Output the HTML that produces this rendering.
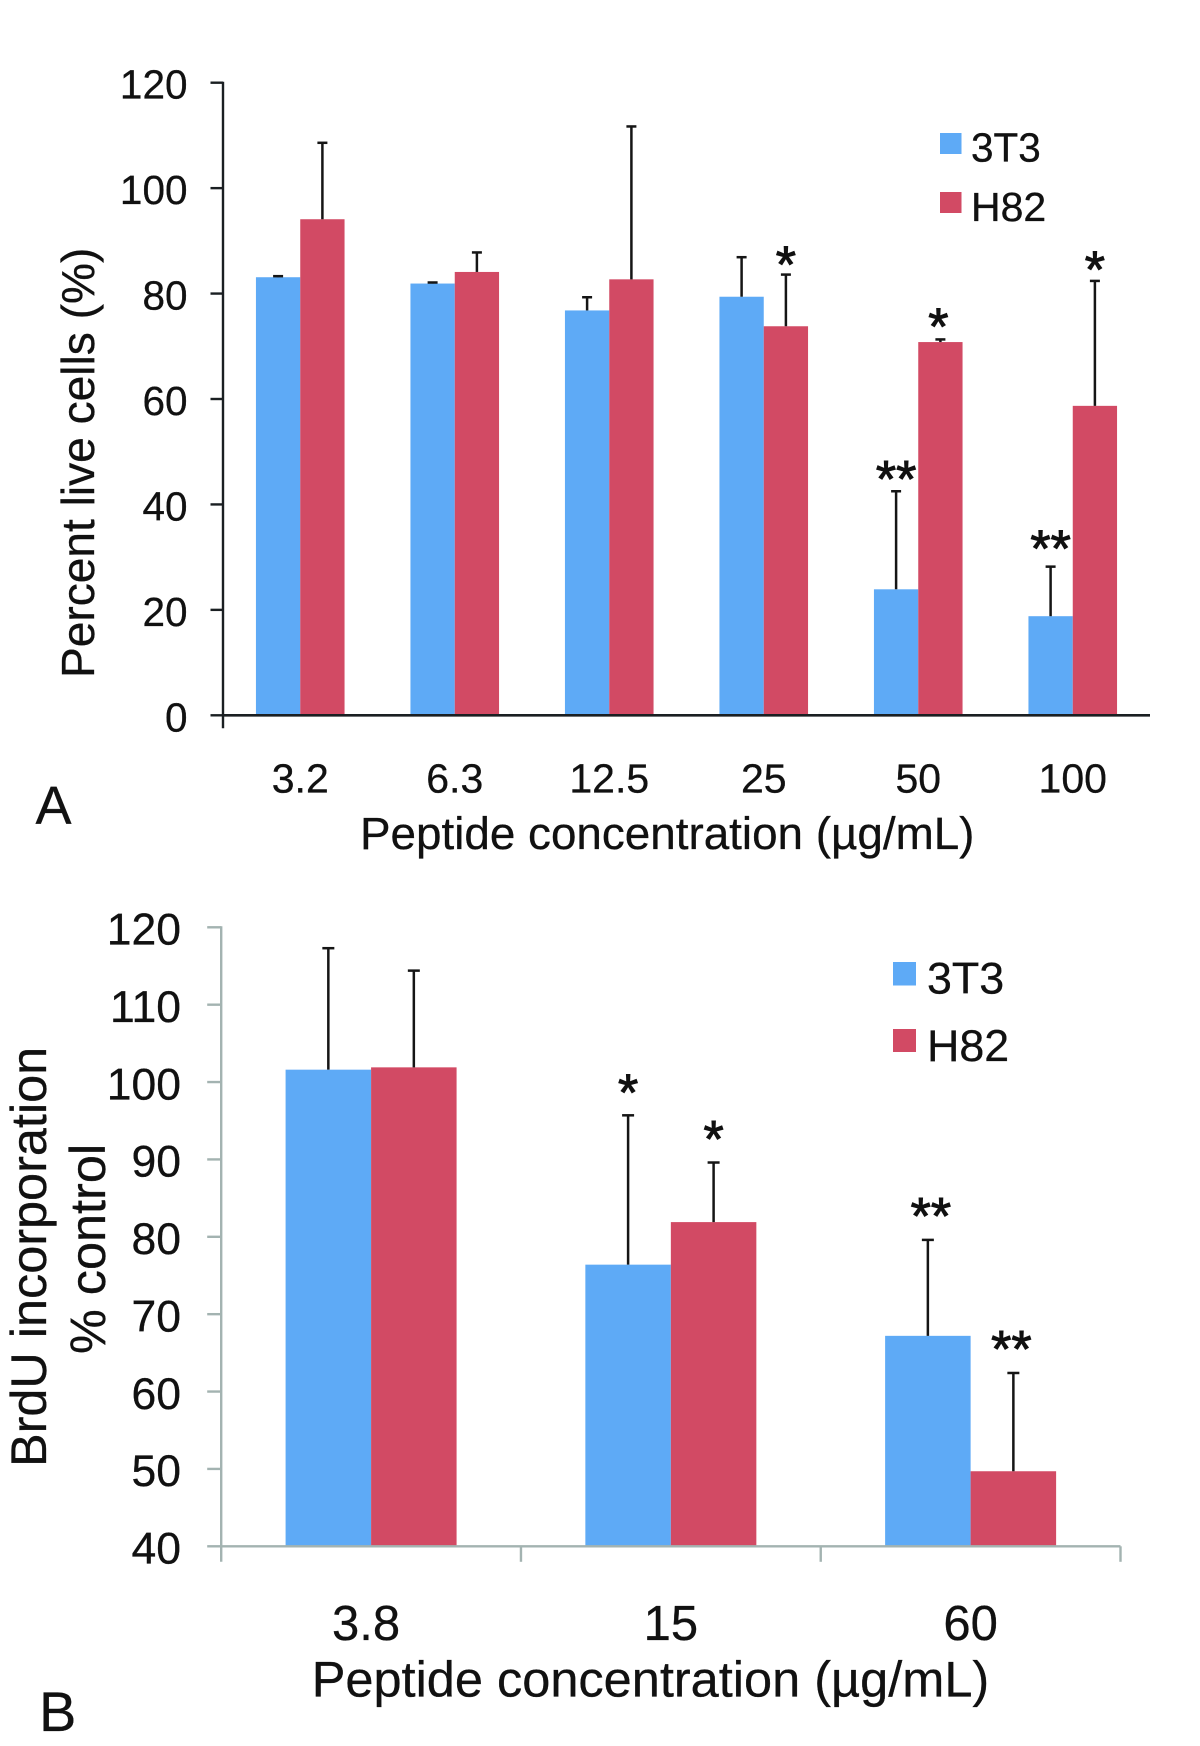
<!DOCTYPE html>
<html lang="en">
<head>
<meta charset="utf-8">
<title>Peptide concentration charts</title>
<style>
html,body{margin:0;padding:0;background:#fff;}
svg{display:block;}
text{font-family:"Liberation Sans",Arial,sans-serif;fill:#111;stroke:#111;stroke-width:0.3px;}
</style>
</head>
<body>
<svg id="figure" xmlns="http://www.w3.org/2000/svg" width="1200" height="1746" viewBox="0 0 1200 1746">
  <rect x="0" y="0" width="1200" height="1746" fill="#ffffff"/>

  <g id="panel-a">
    <text x="35.5" y="824" font-size="54">A</text>
    <text transform="translate(94,678) rotate(-90)" font-size="46.1">Percent live cells (%)</text>
    <text x="360" y="849" font-size="45.8">Peptide concentration (µg/mL)</text>
    <g>
      <rect x="940" y="133" width="21.5" height="21" fill="#5eaaf6"/>
      <text x="971" y="161.5" font-size="40.5">3T3</text>
      <rect x="940" y="192" width="21.5" height="21" fill="#d24a64"/>
      <text x="971" y="221" font-size="41">H82</text>
    </g>
  </g>

  <g id="panel-b">
    <text x="39" y="1731" font-size="56">B</text>
    <text transform="translate(46,1467) rotate(-90)" font-size="50.4">BrdU incorporation</text>
    <text transform="translate(105,1354) rotate(-90)" font-size="50.4">% control</text>
    <text x="311.7" y="1696.5" font-size="50.5">Peptide concentration (µg/mL)</text>
    <g>
      <rect x="893" y="962" width="23" height="23.5" fill="#5eaaf6"/>
      <text x="927" y="993.5" font-size="44.8">3T3</text>
      <rect x="893" y="1029" width="23" height="23" fill="#d24a64"/>
      <text x="927" y="1061" font-size="44.8">H82</text>
    </g>
  </g>
</svg>
<script>
// ---- Panel A data ----
const categoriesA = ['3.2', '6.3', '12.5', '25', '50', '100'];
const yTicksA = [0, 20, 40, 60, 80, 100, 120];
const values3T3A = [83.1, 81.9, 76.8, 79.4, 23.9, 18.8];
const valuesH82A = [94.1, 84.1, 82.7, 73.8, 70.8, 58.7];
const errorTop3T3A = [83.3, 82.1, 79.3, 86.9, 42.5, 28.2];
const errorTopH82A = [108.6, 87.8, 111.7, 83.6, 71.3, 82.4];
const stars3T3A = ['', '', '', '', '**', '**'];
const starsH82A = ['', '', '', '*', '*', '*'];
const starLevel3T3A = [0, 0, 0, 0, 46.0, 32.9];
const starLevelH82A = [0, 0, 0, 86.7, 75.0, 85.8];

// ---- Panel B data ----
const categoriesB = ['3.8', '15', '60'];
const yTicksB = [40, 50, 60, 70, 80, 90, 100, 110, 120];
const values3T3B = [101.6, 76.4, 67.2];
const valuesH82B = [101.9, 81.9, 49.7];
const errorTop3T3B = [117.3, 95.7, 79.6];
const errorTopH82B = [114.4, 89.6, 62.4];
const stars3T3B = ['', '*', '**'];
const starsH82B = ['', '*', '**'];
const starLevel3T3B = [0, 99.5, 83.5];
const starLevelH82B = [0, 93.5, 66.3];

const SVG_NS = 'http://www.w3.org/2000/svg';
const BLUE = '#5eaaf6';
const RED = '#d24a64';

function addLine(parent, name, x1, y1, x2, y2, color, width) {
  const el = document.createElementNS(SVG_NS, 'line');
  
  
  el.setAttribute('x1', x1);
  el.setAttribute('y1', y1);
  el.setAttribute('x2', x2);
  el.setAttribute('y2', y2);
  el.setAttribute('stroke', color);
  el.setAttribute('stroke-width', width);
  parent.appendChild(el);
  return el;
}

function addRect(parent, name, x, y, w, h, color) {
  const el = document.createElementNS(SVG_NS, 'rect');
  
  
  el.setAttribute('x', x);
  el.setAttribute('y', y);
  el.setAttribute('width', w);
  el.setAttribute('height', h);
  el.setAttribute('fill', color);
  parent.appendChild(el);
  return el;
}

function addText(parent, name, x, y, size, anchor, content) {
  const el = document.createElementNS(SVG_NS, 'text');
  
  
  el.setAttribute('x', x);
  el.setAttribute('y', y);
  el.setAttribute('font-size', size);
  el.setAttribute('text-anchor', anchor);
  el.textContent = content;
  parent.appendChild(el);
  return el;
}

function drawChart(root, cfg, categories, yTicks, series) {
  const yMin = yTicks[0];
  const yMax = yTicks[yTicks.length - 1];
  const yScale = v => cfg.yBottom - (v - yMin) * (cfg.yBottom - cfg.yTop) / (yMax - yMin);
  const band = (cfg.xRight - cfg.xLeft) / categories.length;
  const groupCenter = i => cfg.xLeft + band * (i + 0.5);
  const barLeft = (i, s) => groupCenter(i) + (s - 1) * cfg.barWidth;

  series.forEach((ser, s) => {
    ser.values.forEach((v, i) => {
      const left = barLeft(i, s);
      const top = yScale(v);
      addRect(root, 'bar-' + ser.name + '-' + categories[i], left, top, cfg.barWidth, yScale(yMin) - top, ser.color);
      const cx = left + cfg.barWidth / 2;
      const errTop = yScale(ser.errorTop[i]);
      addLine(root, 'error-bar-' + ser.name + '-' + categories[i], cx, top, cx, errTop, cfg.errorColor, cfg.errorWidth);
      addLine(root, 'error-cap-' + ser.name + '-' + categories[i], cx - cfg.capHalf, errTop, cx + cfg.capHalf, errTop, cfg.errorColor, cfg.errorWidth);
      if (ser.stars[i]) {
        const nudge = cfg.starNudge[ser.name + '-' + categories[i]] || 0;
        const star = addText(root, 'significance-' + ser.name + '-' + categories[i], cx + nudge, yScale(ser.starLevel[i]) + cfg.starFont * 0.47, cfg.starFont, 'middle', ser.stars[i]);
        star.style.strokeWidth = '1px';
      }
    });
  });

  addLine(root, 'y-axis-line', cfg.xLeft, cfg.yTop - 1, cfg.xLeft, cfg.yBottom + cfg.xTickLen, cfg.axisColor, cfg.axisWidth);
  addLine(root, 'x-axis-line', cfg.xLeft, cfg.yBottom, cfg.xRight, cfg.yBottom, cfg.axisColor, cfg.baseWidth);

  yTicks.forEach(t => {
    const y = yScale(t);
    addLine(root, 'y-tick-' + t, cfg.xLeft - cfg.yTickLen, y, cfg.xLeft, y, cfg.axisColor, cfg.axisWidth);
    addText(root, 'y-tick-label-' + t, cfg.yLabelRight, y + cfg.yLabelDrop, cfg.tickFont, 'end', String(t));
  });

  if (cfg.groupTicks) {
    categories.forEach((c, i) => {
      const x = cfg.xLeft + band * (i + 1);
      addLine(root, 'x-tick-' + (i + 1), x, cfg.yBottom, x, cfg.yBottom + cfg.xTickLen, cfg.axisColor, cfg.axisWidth);
    });
  }

  categories.forEach((c, i) => {
    addText(root, 'x-tick-label-' + c, groupCenter(i) + (cfg.labelNudge[c] || 0), cfg.xLabelBaseline, cfg.xLabelFont, 'middle', c);
  });
}

drawChart(document.getElementById('panel-a'), {
  xLeft: 223, xRight: 1150, yTop: 82.7, yBottom: 715.3,
  barWidth: 44.3, capHalf: 5, errorColor: '#151515', errorWidth: 2.5,
  axisColor: '#1a1f22', axisWidth: 2.4, baseWidth: 2.6,
  yTickLen: 12.5, xTickLen: 13, groupTicks: false,
  tickFont: 40.5, yLabelRight: 187.5, yLabelDrop: 16,
  xLabelFont: 41, xLabelBaseline: 792.5, starFont: 52,
  starNudge: { 'h82-50': -2 }, labelNudge: {}
}, categoriesA, yTicksA, [
  { name: '3t3', color: BLUE, values: values3T3A, errorTop: errorTop3T3A, stars: stars3T3A, starLevel: starLevel3T3A },
  { name: 'h82', color: RED, values: valuesH82A, errorTop: errorTopH82A, stars: starsH82A, starLevel: starLevelH82A }
]);

drawChart(document.getElementById('panel-b'), {
  xLeft: 221.2, xRight: 1120.5, yTop: 927.3, yBottom: 1546.3,
  barWidth: 85.5, capHalf: 6, errorColor: '#151515', errorWidth: 2.5,
  axisColor: '#a3b3b1', axisWidth: 2.4, baseWidth: 2.4,
  yTickLen: 14, xTickLen: 15.5, groupTicks: true,
  tickFont: 44.5, yLabelRight: 181, yLabelDrop: 17.2,
  xLabelFont: 49, xLabelBaseline: 1640, starFont: 52,
  starNudge: { '3t3-60': 3, 'h82-60': -2 }, labelNudge: { '3.8': -5 }
}, categoriesB, yTicksB, [
  { name: '3t3', color: BLUE, values: values3T3B, errorTop: errorTop3T3B, stars: stars3T3B, starLevel: starLevel3T3B },
  { name: 'h82', color: RED, values: valuesH82B, errorTop: errorTopH82B, stars: starsH82B, starLevel: starLevelH82B }
]);
</script>
</body>
</html>
